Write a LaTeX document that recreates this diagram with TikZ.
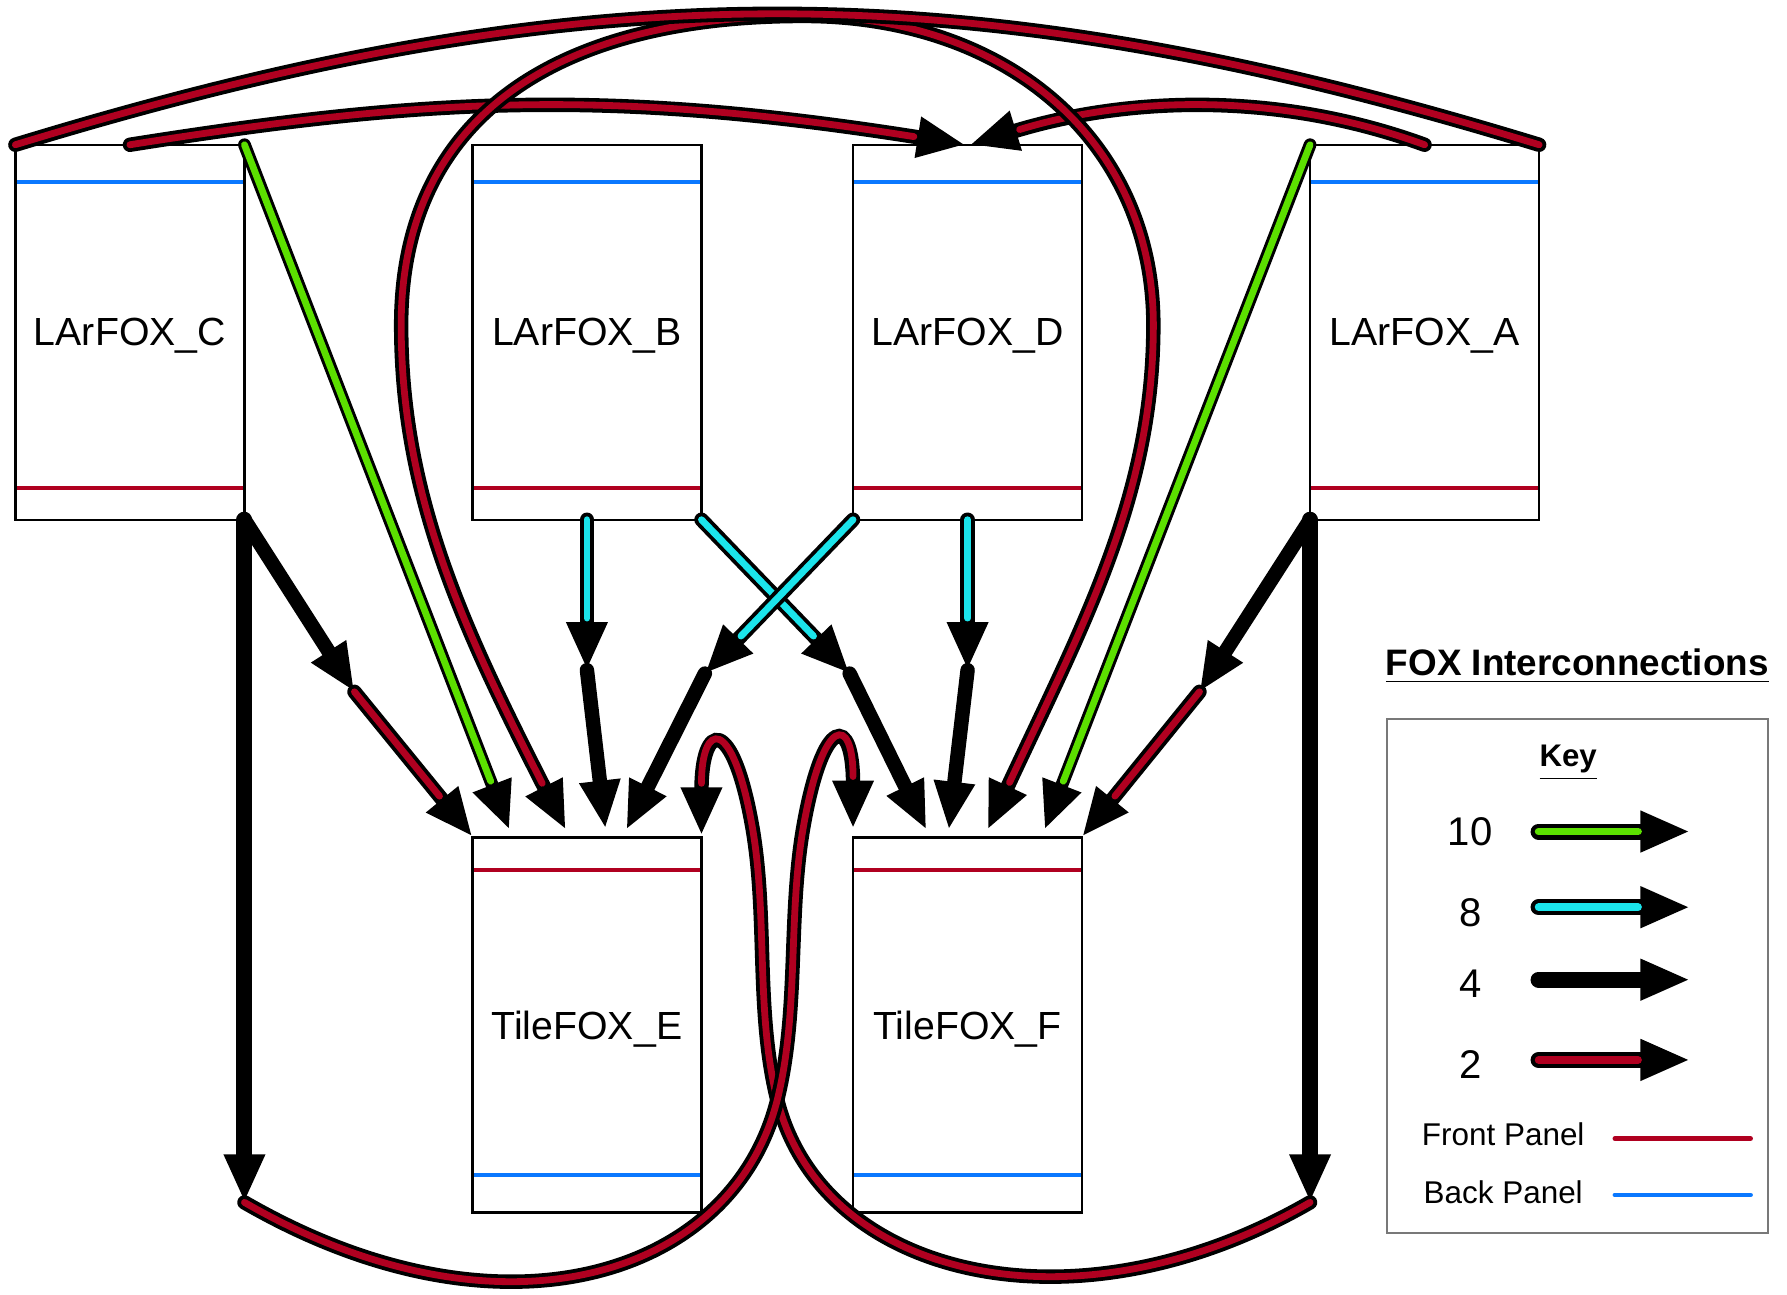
\documentclass[tikz,border=0pt]{standalone}
\usepackage{fontspec}
\setmainfont{Liberation Sans}
\usetikzlibrary{positioning,arrows.meta}

\definecolor{frontred}{RGB}{176,0,32}
\definecolor{backblue}{RGB}{10,120,255}
\definecolor{tengreen}{RGB}{92,224,0}
\definecolor{eightcyan}{RGB}{27,228,235}
\definecolor{keygray}{RGB}{120,120,120}

\begin{document}
\begin{tikzpicture}[
  frontline/.style={draw=frontred, line width=1pt},
  backline/.style={draw=backblue, line width=1pt},
  fox/.style={draw, line width=0.6pt, minimum width=2.01cm, minimum height=3.29cm,
              inner sep=0pt, outer sep=0pt, text depth=0pt,
              font=\fontsize{9.8}{12}\selectfont},
  larfox/.style={fox, path picture={
      \draw[backline] ([yshift=-0.33cm]path picture bounding box.north west)
                   -- ([yshift=-0.33cm]path picture bounding box.north east);
      \draw[frontline] ([yshift=0.28cm]path picture bounding box.south west)
                    -- ([yshift=0.28cm]path picture bounding box.south east);}},
  tilefox/.style={fox, path picture={
      \draw[frontline] ([yshift=-0.28cm]path picture bounding box.north west)
                    -- ([yshift=-0.28cm]path picture bounding box.north east);
      \draw[backline] ([yshift=0.33cm]path picture bounding box.south west)
                   -- ([yshift=0.33cm]path picture bounding box.south east);}},
  cable/.style={line width=3.6pt, line cap=round},
  tipped/.style={-{Triangle[length=12pt,width=9.5pt]}},
  twotipped/.style={{Triangle[length=12pt,width=9.5pt]}-{Triangle[length=12pt,width=9.5pt]}},
  core/.style={postaction={draw=#1, line width=1.7pt, -, shorten >=13pt}},
  fullcore/.style={postaction={draw=#1, line width=1.7pt, -}},
  bothcore/.style={postaction={draw=#1, line width=1.7pt, -, shorten >=13pt, shorten <=13pt}},
  keycable/.style={line width=4pt, line cap=round, -{Triangle[length=12.4pt,width=9.5pt]}},
  keycore/.style={postaction={draw=#1, line width=1.9pt, -, shorten >=13pt}},
  keynum/.style={anchor=base, font=\fontsize{10}{12}\selectfont},
  keytext/.style={anchor=base, font=\fontsize{7.85}{9}\selectfont}
]
\useasboundingbox (0,0) rectangle (15.68,-11.36);

% boards
\node[larfox] (C) at (1.14,-2.915) {LArFOX\_C};
\node[larfox, right=2cm of C] (B) {LArFOX\_B};
\node[larfox, right=1.33cm of B] (D) {LArFOX\_D};
\node[larfox, right=2cm of D] (A) {LArFOX\_A};
\node[tilefox, below=2.79cm of B] (E) {TileFOX\_E};
\node[tilefox, below=2.79cm of D] (F) {TileFOX\_F};

% where cables change
\coordinate[below=5.99cm of C.south east] (cdrop);
\coordinate[below=5.99cm of A.south west] (adrop);
\coordinate[below right=1.51cm and 0.965cm of C.south east] (cmid);
\coordinate[below left=1.51cm and 0.97cm of A.south west] (amid);
\coordinate[below=1.32cm of B.south] (bmid);
\coordinate[below=1.32cm of D.south] (dmid);
\coordinate[below right=1.35cm and 1.30cm of B.south east] (bcross);
\coordinate[below left=1.35cm and 1.30cm of D.south west] (dcross);
\coordinate (twist) at (6.82,-9.65);
\coordinate (legE) at (6.60,-7.25);
\coordinate (legF) at (7.05,-7.25);
\coordinate (loopW) at (3.52,-2.85);
\coordinate (loopN) at (7.05,-0.14);
\coordinate (loopO) at (10.12,-2.85);

% over the top
\draw[cable, tipped, core=frontred] (C.north) .. controls +(9:2.6) and +(171:3.2) .. ([xshift=-0.02cm]D.north);
\draw[cable, tipped, core=frontred] (A.north) .. controls +(160:1.41) and +(17:1.41) .. ([xshift=0.02cm]D.north);
\draw[cable, twotipped, bothcore=frontred] ([xshift=0.82cm,yshift=0.07cm]E.north west)
  .. controls +(117:2.0) and +(-90:1.5) .. (loopW)
  .. controls +(90:1.8) and +(180:2.2) .. (loopN)
  .. controls +(0:1.8) and +(90:1.6) .. (loopO)
  .. controls +(-90:1.5) and +(65:2.0) .. ([xshift=1.18cm,yshift=0.07cm]F.north west);
\draw[cable, fullcore=frontred] (C.north west) .. controls +(17:5.24) and +(163:5.24) .. (A.north east);

% 10
\draw[cable, line width=3.2pt, tipped, core=tengreen] (C.north east) -- ([xshift=0.325cm,yshift=0.07cm]E.north west);
\draw[cable, line width=3.2pt, tipped, core=tengreen] (A.north west) -- ([xshift=1.68cm,yshift=0.07cm]F.north west);

% 4 then 2
\draw[cable, tipped] (C.south east) -- (cmid);
\draw[cable, tipped, core=frontred] (cmid) -- ([yshift=0.01cm]E.north west);
\draw[cable, tipped] (A.south west) -- (amid);
\draw[cable, tipped, core=frontred] (amid) -- ([yshift=0.01cm]F.north east);
\draw[cable, line width=4pt, tipped] (C.south east) -- (cdrop);
\draw[cable, line width=4pt, tipped] (A.south west) -- (adrop);

% 8 then 4
\draw[cable, tipped, core=eightcyan] (B.south) -- (bmid);
\draw[cable, tipped] (bmid) -- ([xshift=1.167cm,yshift=0.08cm]E.north west);
\draw[cable, tipped, core=eightcyan] (D.south) -- (dmid);
\draw[cable, tipped] (dmid) -- ([xshift=0.84cm,yshift=0.07cm]F.north west);
\draw[cable, tipped, core=eightcyan] (B.south east) -- (bcross);
\draw[cable, tipped, core=eightcyan] (D.south west) -- (dcross);
\draw[cable, tipped] (bcross) -- ([xshift=0.644cm,yshift=0.07cm]F.north west);
\draw[cable, tipped] (dcross) -- ([xshift=1.35cm,yshift=0.07cm]E.north west);

% under the tile boards
\draw[cable, tipped, core=frontred] (adrop)
  .. controls +(210:2.4) and +(-76:1.6) .. (twist)
  .. controls +(104:0.8) and +(-80:0.8) .. (legE)
  .. controls +(100:1.0) and +(90:1.0) .. ([yshift=0.02cm]E.north east);
\draw[cable, tipped, core=frontred] (cdrop)
  .. controls +(-30:2.6) and +(-104:1.6) .. (twist)
  .. controls +(76:0.8) and +(-100:0.8) .. (legF)
  .. controls +(80:1.0) and +(90:1.0) .. ([yshift=0.08cm]F.north west);

% key
\node[font=\bfseries\fontsize{9.2}{11}\selectfont, anchor=base] (title) at (13.84,-5.926) {\underline{FOX Interconnections}};
\node[draw=keygray, line width=0.5pt, minimum width=3.34cm, minimum height=4.51cm, inner sep=0pt] (keybox) at (13.84,-8.565) {};
\node[font=\bfseries\fontsize{7.8}{9}\selectfont, anchor=base] (keyhead) at (13.76,-6.724) {\underline{Key}};
\node[keynum] (n10) at (12.90,-7.418) {10};
\node[keynum] (n8) at (12.90,-8.128) {8};
\node[keynum] (n4) at (12.90,-8.753) {4};
\node[keynum] (n2) at (12.90,-9.465) {2};
\draw[keycable, keycore=tengreen] ([xshift=0.6cm,yshift=0.122cm]n10.base) -- ([xshift=1.93cm,yshift=0.122cm]n10.base);
\draw[keycable, keycore=eightcyan] ([xshift=0.6cm,yshift=0.168cm]n8.base) -- ([xshift=1.93cm,yshift=0.168cm]n8.base);
\draw[keycable] ([xshift=0.6cm,yshift=0.157cm]n4.base) -- ([xshift=1.93cm,yshift=0.157cm]n4.base);
\draw[keycable, keycore=frontred] ([xshift=0.6cm,yshift=0.165cm]n2.base) -- ([xshift=1.93cm,yshift=0.165cm]n2.base);
\node[keytext] (fp) at (13.19,-10.055) {Front Panel};
\node[keytext] (bp) at (13.19,-10.557) {Back Panel};
\draw[frontline, line width=1.2pt, line cap=round] ([xshift=0.98cm,yshift=0.065cm]fp.base) -- ([xshift=2.17cm,yshift=0.065cm]fp.base);
\draw[backline, line width=1.2pt, line cap=round] ([xshift=0.98cm,yshift=0.072cm]bp.base) -- ([xshift=2.17cm,yshift=0.072cm]bp.base);
\end{tikzpicture}
\end{document}
